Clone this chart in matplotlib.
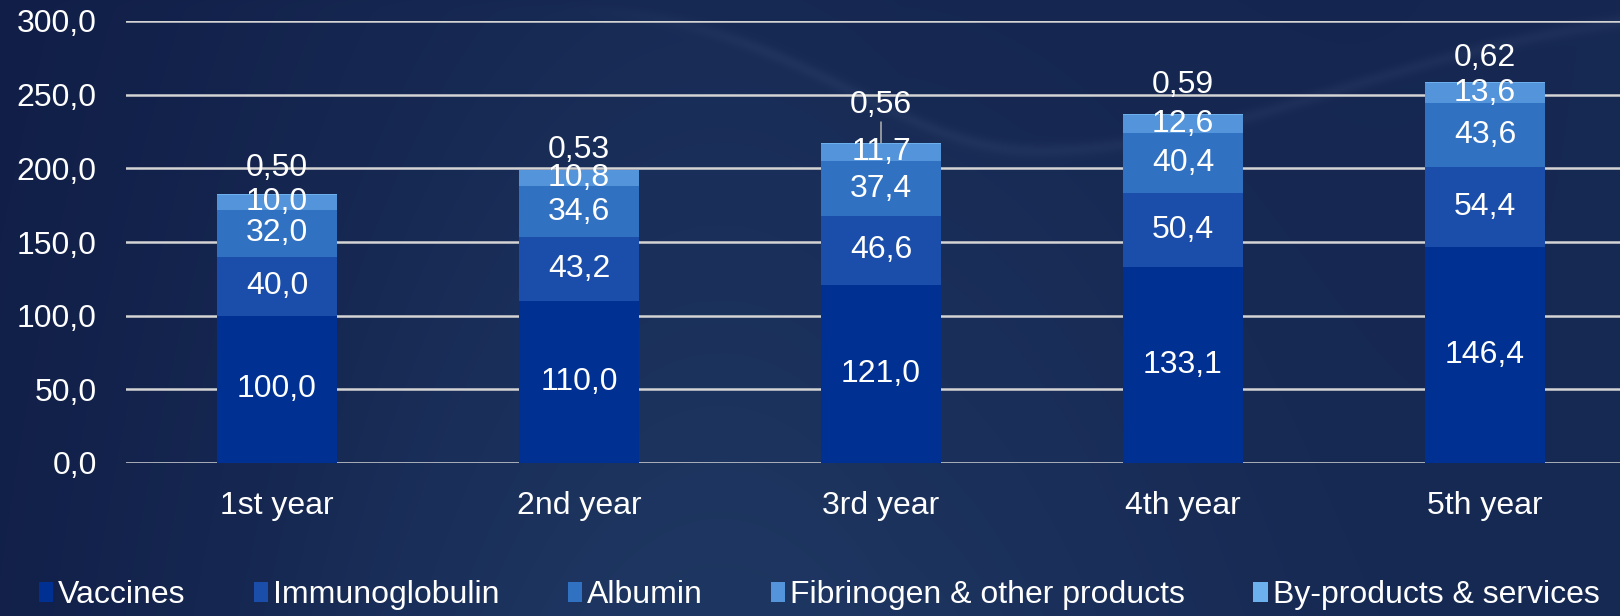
import numpy as np
import matplotlib
matplotlib.use("Agg")
import matplotlib.pyplot as plt

plt.rcParams["font.family"] = ["Liberation Sans", "DejaVu Sans"]

years = ["1st year", "2nd year", "3rd year", "4th year", "5th year"]
series_names = ["Vaccines", "Immunoglobulin", "Albumin",
                "Fibrinogen & other products", "By-products & services"]
vaccines = [100.0, 110.0, 121.0, 133.1, 146.4]
immunoglobulin = [40.0, 43.2, 46.6, 50.4, 54.4]
albumin = [32.0, 34.6, 37.4, 40.4, 43.6]
fibrinogen = [10.0, 10.8, 11.7, 12.6, 13.6]
byproducts = [0.50, 0.53, 0.56, 0.59, 0.62]
yticks = [0, 50, 100, 150, 200, 250, 300]

colors = ["#003092", "#1a4eaa", "#3171c2", "#5494da", "#6cb0ee"]
# where the small top-series labels sit above the bar (points)
top_offsets = [19, 14, 27, 21, 17]
FS = 23


def fmt(v, nd=1):
    return f"{v:.{nd}f}".replace(".", ",")


W, H = 1620, 616
fig = plt.figure(figsize=(W / 100, H / 100), dpi=100)

# --- background: dark navy gradient with a soft swoosh ---
px = np.arange(W)[None, :].astype(float)
py = np.arange(H)[:, None].astype(float)
dark = np.array([0x10, 0x1d, 0x46]) / 255
mid = np.array([0x1e, 0x37, 0x62]) / 255
t = np.exp(-((px - 720) / 520) ** 2) * (0.55 + 0.45 * py / H)
t = t + 0.45 * np.clip((px - 900) / 720, 0, 1)
t = np.clip(t, 0, 1)[..., None]
img = dark * (1 - t) + mid * t
# darker pocket above a smooth arc in the upper right
sig = np.where(px < 1036, 260.0, 420.0)
curve = 150 * np.exp(-((px - 1036) / sig) ** 2)
soft = 1 / (1 + np.exp((py - curve) / 3.0))
img = img * (1 - 0.14 * soft[..., None]) + dark * 0.14 * soft[..., None]
band = np.exp(-((py - curve) / 7.0) ** 2) * np.clip((px - 560) / 200, 0, 1)
img = img + band[..., None] * 0.03
img = np.clip(img, 0, 1)
bg = fig.add_axes([0, 0, 1, 1], zorder=-10)
bg.imshow(img, extent=[0, 1, 0, 1], aspect="auto", origin="upper")
bg.axis("off")

# --- chart ---
ax = fig.add_axes([126 / W, 1 - 463 / H, 1 - 126 / W, (463 - 21) / H])
ax.set_facecolor("none")

x = np.arange(len(years))
width = 0.40
data = [vaccines, immunoglobulin, albumin, fibrinogen, byproducts]
bottom = np.zeros(len(years))
handles = []
for i, (vals, name) in enumerate(zip(data, series_names)):
    vals = np.array(vals)
    b = ax.bar(x, vals, width, bottom=bottom, color=colors[i], label=name, zorder=3)
    handles.append(b)
    if i < 4:
        for xi, v, bt in zip(x, vals, bottom):
            ax.text(xi, bt + v / 2, fmt(v), ha="center", va="center",
                    color="white", fontsize=FS, zorder=5)
    else:
        for j, (xi, v, bt) in enumerate(zip(x, vals, bottom)):
            top = bt + v
            ax.annotate(fmt(v, 2), xy=(xi, top), xytext=(0, top_offsets[j]),
                        textcoords="offset points", ha="center", va="center",
                        color="white", fontsize=FS, zorder=5)
            if top_offsets[j] > 25:
                # leader line for the label pushed further up
                ax.annotate("", xy=(xi, top), xytext=(0, 15),
                            textcoords="offset points",
                            arrowprops=dict(arrowstyle="-", color="#a8a8a8",
                                            lw=1.2, shrinkA=0, shrinkB=0))
    bottom = bottom + vals

ax.set_ylim(0, 300)
ax.set_xlim(-0.5, 4.447)
ax.set_yticks(yticks)
ax.set_yticklabels([fmt(v) for v in yticks])
ax.set_xticks(x)
ax.set_xticklabels(years)
ax.tick_params(length=0, labelsize=FS, colors="white")
ax.tick_params(axis="x", pad=20)
ax.tick_params(axis="y", pad=21)
ax.yaxis.grid(True, color="#d4d4d4", lw=1.8, zorder=1)
ax.set_axisbelow(True)
for s in ax.spines.values():
    s.set_visible(False)

fig.legend(handles=handles, labels=series_names, loc="center",
           bbox_to_anchor=(0.5055, 1 - 595 / H), ncol=5, frameon=False,
           fontsize=FS, labelcolor="white", handlelength=0.45,
           handleheight=0.6, handletextpad=0.15, columnspacing=2.14,
           borderpad=0, borderaxespad=0)

fig.savefig("out.png", dpi=100)
